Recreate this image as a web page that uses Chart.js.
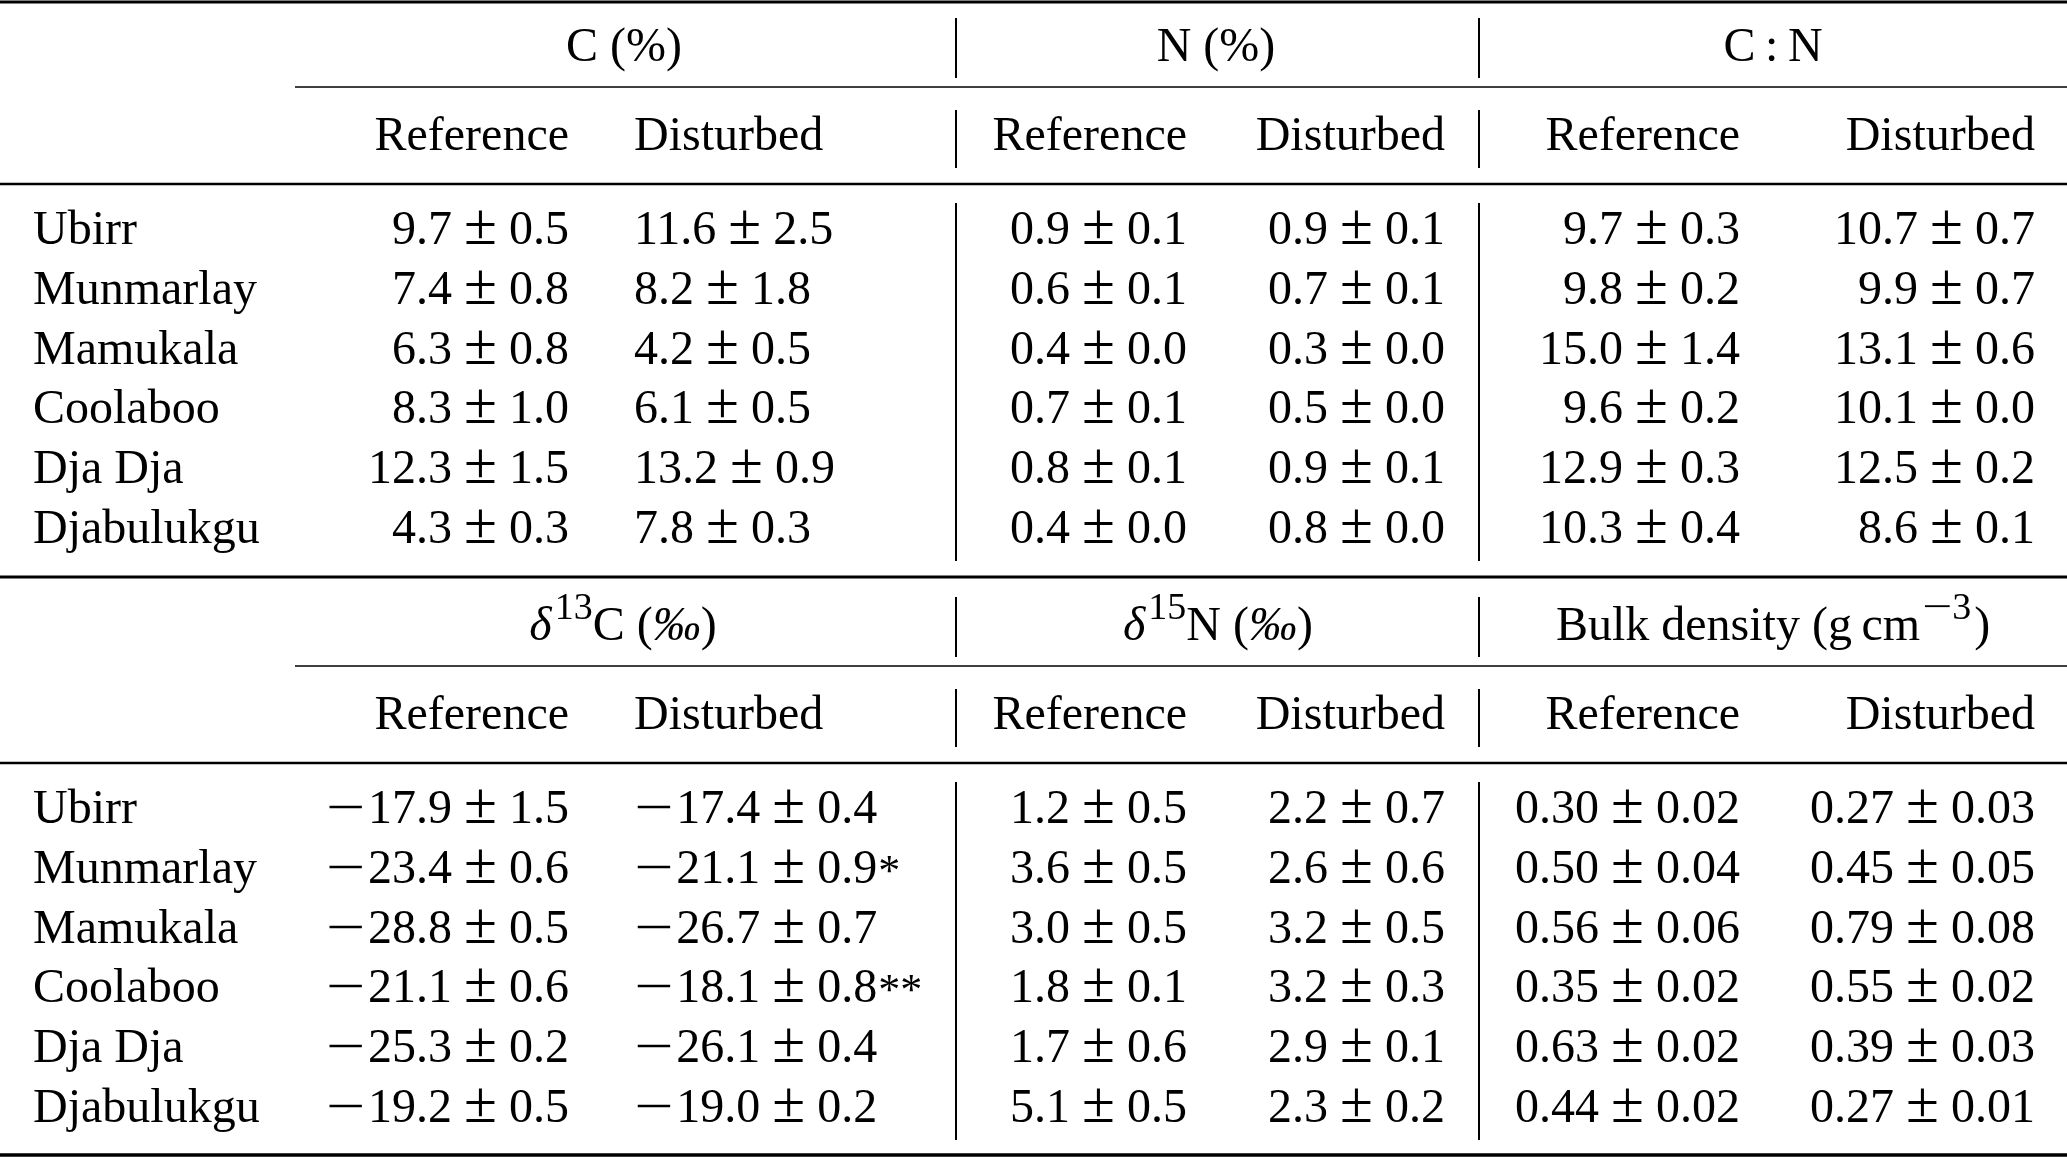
<!DOCTYPE html>
<html><head><meta charset="utf-8">
<script src="https://cdn.jsdelivr.net/npm/chart.js@4"></script>
<style>html,body{margin:0;padding:0;background:#fff;overflow:hidden}#wrap{width:2067px;height:1158px;position:relative}</style>
</head><body><div id="wrap"><canvas id="c"></canvas></div>
<script>
// ---------------- DATA ----------------
const sites = ["Ubirr", "Munmarlay", "Mamukala", "Coolaboo", "Dja Dja", "Djabulukgu"];
const subHeaders = ["Reference", "Disturbed"];
const groupHeadersTop = ["C (%)", "N (%)", "C : N"];
const groupHeadersBottom = ["δ13C (‰)", "δ15N (‰)", "Bulk density (g cm−3)"];

const cRefMean = [9.7, 7.4, 6.3, 8.3, 12.3, 4.3];
const cRefSd = [0.5, 0.8, 0.8, 1.0, 1.5, 0.3];
const cDistMean = [11.6, 8.2, 4.2, 6.1, 13.2, 7.8];
const cDistSd = [2.5, 1.8, 0.5, 0.5, 0.9, 0.3];

const nRefMean = [0.9, 0.6, 0.4, 0.7, 0.8, 0.4];
const nRefSd = [0.1, 0.1, 0.0, 0.1, 0.1, 0.0];
const nDistMean = [0.9, 0.7, 0.3, 0.5, 0.9, 0.8];
const nDistSd = [0.1, 0.1, 0.0, 0.0, 0.1, 0.0];

const cnRefMean = [9.7, 9.8, 15.0, 9.6, 12.9, 10.3];
const cnRefSd = [0.3, 0.2, 1.4, 0.2, 0.3, 0.4];
const cnDistMean = [10.7, 9.9, 13.1, 10.1, 12.5, 8.6];
const cnDistSd = [0.7, 0.7, 0.6, 0.0, 0.2, 0.1];

const d13RefMean = [-17.9, -23.4, -28.8, -21.1, -25.3, -19.2];
const d13RefSd = [1.5, 0.6, 0.5, 0.6, 0.2, 0.5];
const d13DistMean = [-17.4, -21.1, -26.7, -18.1, -26.1, -19.0];
const d13DistSd = [0.4, 0.9, 0.7, 0.8, 0.4, 0.2];
const d13DistSig = ["", "*", "", "**", "", ""];

const d15RefMean = [1.2, 3.6, 3.0, 1.8, 1.7, 5.1];
const d15RefSd = [0.5, 0.5, 0.5, 0.1, 0.6, 0.5];
const d15DistMean = [2.2, 2.6, 3.2, 3.2, 2.9, 2.3];
const d15DistSd = [0.7, 0.6, 0.5, 0.3, 0.1, 0.2];

const bdRefMean = [0.30, 0.50, 0.56, 0.35, 0.63, 0.44];
const bdRefSd = [0.02, 0.04, 0.06, 0.02, 0.02, 0.02];
const bdDistMean = [0.27, 0.45, 0.79, 0.55, 0.39, 0.27];
const bdDistSd = [0.03, 0.05, 0.08, 0.02, 0.03, 0.01];

// ---------------- LAYOUT / STYLE ----------------
const W = 2067, H = 1158;
const FONT = '"Liberation Serif", "Times New Roman", serif';
const FS = 48;
const BLOCK_OFFSET = 579;
const ROW_Y0 = 244, ROW_STEP = 59.8;
const SUB_Y = 150, GROUP_Y = 61;
const LABEL_X = 33;
const valueAnchors = [569, 634, 1187, 1445, 1740, 2035];
const valueAlign = ['right', 'left', 'right', 'right', 'right', 'right'];
const groupCenters = [[624, 1216, 1773], [623, 1218, 1773]];
const PM_SIZE = 60;
const PM_GAP = 12;
const MINUS_SX = 1.45, MINUS_PAD = 3;
const SUP_SIZE = 38, SUP_DY = -21;
const STAR_SIZE = 44, STAR_DY = 2;

// text segment builders
function numSegs(v, dec) {
  const s = [];
  if (v < 0) s.push({ t: '−', sx: MINUS_SX, padR: MINUS_PAD });
  s.push({ t: Math.abs(v).toFixed(dec) });
  return s;
}
function cellSegs(mean, sd, dec, sig) {
  const s = numSegs(mean, dec);
  s.push({ t: '±', size: PM_SIZE, padL: PM_GAP, padR: PM_GAP });
  s.push({ t: sd.toFixed(dec) });
  if (sig) s.push({ t: sig, size: STAR_SIZE, dy: STAR_DY, padL: 1 });
  return s;
}
function headerSegs(txt) {
  if (txt === 'C : N') return [{ t: 'C' }, { t: ':', padL: 0.2 * FS, padR: 0.2 * FS }, { t: 'N' }];
  const m = txt.match(/^δ(\d+)(.*)\(‰\)$/);
  if (m) return [{ t: 'δ', italic: true }, { t: m[1], size: SUP_SIZE, dy: SUP_DY, padL: 3 }, { t: m[2] + '(' }, { t: '‰', italic: true }, { t: ')' }];
  const b = txt.match(/^(.*cm)(−\d)\)$/);
  if (b) return [{ t: b[1].replace('g cm', 'g\u2009cm') }, { t: '−', size: SUP_SIZE, dy: SUP_DY, sx: 1.4, padL: 2 }, { t: b[2].slice(1), size: SUP_SIZE, dy: SUP_DY }, { t: ')', padL: 3 }];
  return [{ t: txt }];
}

const rowY = (blk, i) => ROW_Y0 + blk * BLOCK_OFFSET + i * ROW_STEP;

const blocks = [
  { headers: groupHeadersTop, cols: [
    [cRefMean, cRefSd, 1, null], [cDistMean, cDistSd, 1, null],
    [nRefMean, nRefSd, 1, null], [nDistMean, nDistSd, 1, null],
    [cnRefMean, cnRefSd, 1, null], [cnDistMean, cnDistSd, 1, null]] },
  { headers: groupHeadersBottom, cols: [
    [d13RefMean, d13RefSd, 1, null], [d13DistMean, d13DistSd, 1, d13DistSig],
    [d15RefMean, d15RefSd, 1, null], [d15DistMean, d15DistSd, 1, null],
    [bdRefMean, bdRefSd, 2, null], [bdDistMean, bdDistSd, 2, null]] }
];

const datasets = [];
blocks.forEach((blk, b) => {
  datasets.push({ data: sites.map((s, i) => ({ x: LABEL_X, y: rowY(b, i) })), texts: sites.map(s => [{ t: s }]), align: 'left' });
  datasets.push({ data: blk.headers.map((h, k) => ({ x: groupCenters[b][k], y: GROUP_Y + b * BLOCK_OFFSET })), texts: blk.headers.map(headerSegs), align: 'center' });
  datasets.push({ data: valueAnchors.map((x, c) => ({ x, y: SUB_Y + b * BLOCK_OFFSET })), texts: valueAnchors.map((x, c) => [{ t: subHeaders[c % 2] }]), align: valueAlign });
  blk.cols.forEach((col, c) => {
    const [mean, sd, dec, sig] = col;
    datasets.push({ data: mean.map((v, i) => ({ x: valueAnchors[c], y: rowY(b, i) })), texts: mean.map((v, i) => cellSegs(v, sd[i], dec, sig ? sig[i] : '')), align: valueAlign[c] });
  });
});
datasets.forEach(d => { d.pointRadius = 0; d.showLine = false; d.clip = false; });

// rules: horizontal [y, x0, x1, width], vertical segments
const hRules = [];
[0, 1].forEach(b => {
  const o = b * BLOCK_OFFSET;
  hRules.push([b === 0 ? 2 : 577, 0, W, 3]);
  hRules.push([87 + o, 295, W, 1.6]);
  hRules.push([184 + o, 0, W, 2.4]);
});
hRules.push([1155, 0, W, 3.4]);
const vRules = [];
[0, 1].forEach(b => {
  const o = b * BLOCK_OFFSET;
  [956, 1479].forEach(x => {
    [[18, 78], [110, 168], [203, 561]].forEach(([y0, y1]) => vRules.push([x, y0 + o, y1 + o]));
  });
});

function segFont(s) { return (s.italic ? 'italic ' : '') + (s.size || FS) + 'px ' + FONT; }
function drawRich(ctx, segs, x, y, align) {
  let w = 0;
  segs.forEach(s => { ctx.font = segFont(s); w += (s.padL || 0) + ctx.measureText(s.t).width * (s.sx || 1) + (s.padR || 0); });
  let cx = align === 'right' ? x - w : align === 'center' ? x - w / 2 : x;
  ctx.fillStyle = '#000'; ctx.textBaseline = 'alphabetic'; ctx.textAlign = 'left';
  segs.forEach(s => {
    ctx.font = segFont(s);
    cx += s.padL || 0;
    const mw = ctx.measureText(s.t).width;
    ctx.save(); ctx.translate(cx, y + (s.dy || 0)); ctx.scale(s.sx || 1, 1); ctx.fillText(s.t, 0, 0); ctx.restore();
    cx += mw * (s.sx || 1) + (s.padR || 0);
  });
}

const tablePlugin = {
  id: 'tablePlugin',
  beforeDraw(chart) {
    const ctx = chart.ctx; ctx.save(); ctx.fillStyle = '#fff'; ctx.fillRect(0, 0, chart.width, chart.height); ctx.restore();
  },
  afterDatasetsDraw(chart) {
    const ctx = chart.ctx, xs = chart.scales.x, ys = chart.scales.y;
    ctx.save();
    ctx.strokeStyle = '#000';
    hRules.forEach(([y, x0, x1, lw]) => {
      ctx.lineWidth = lw; ctx.beginPath();
      ctx.moveTo(xs.getPixelForValue(x0), ys.getPixelForValue(y));
      ctx.lineTo(xs.getPixelForValue(x1), ys.getPixelForValue(y)); ctx.stroke();
    });
    ctx.lineWidth = 2;
    vRules.forEach(([x, y0, y1]) => {
      ctx.beginPath();
      ctx.moveTo(xs.getPixelForValue(x), ys.getPixelForValue(y0));
      ctx.lineTo(xs.getPixelForValue(x), ys.getPixelForValue(y1)); ctx.stroke();
    });
    chart.data.datasets.forEach((ds, di) => {
      const meta = chart.getDatasetMeta(di);
      meta.data.forEach((el, i) => {
        const al = Array.isArray(ds.align) ? ds.align[i] : ds.align;
        drawRich(ctx, ds.texts[i], el.x, el.y, al);
      });
    });
    ctx.restore();
  }
};

new Chart(document.getElementById('c'), {
  type: 'scatter',
  data: { datasets },
  options: {
    responsive: true, maintainAspectRatio: false, animation: false, events: [],
    layout: { padding: 0 },
    plugins: { legend: { display: false }, tooltip: { enabled: false } },
    scales: {
      x: { type: 'linear', min: 0, max: W, display: false },
      y: { type: 'linear', min: 0, max: H, reverse: true, display: false }
    }
  },
  plugins: [tablePlugin]
});
</script></body></html>
